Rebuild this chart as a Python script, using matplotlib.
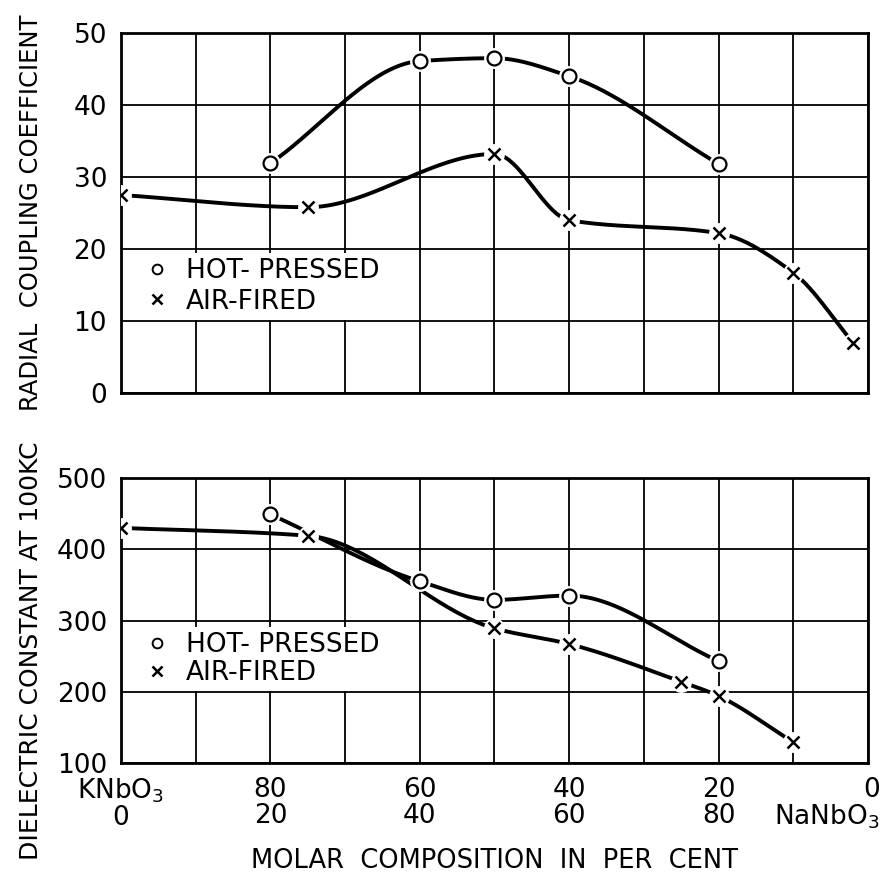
import numpy as np
import matplotlib
matplotlib.use("Agg")
import matplotlib.pyplot as plt
from matplotlib.lines import Line2D

plt.rcParams['font.family'] = ['DejaVu Sans']

# mole per cent NaNbO3 (0 = pure KNbO3, 100 = pure NaNbO3)
k_hot_x = [20, 40, 50, 60, 80]
k_hot_y = [31.9, 46.1, 46.5, 44.0, 31.8]
k_air_x = [0, 25, 50, 60, 80, 90, 98]
k_air_y = [27.5, 25.8, 33.2, 24.0, 22.2, 16.7, 7.0]

eps_hot_x = [20, 40, 50, 60, 80]
eps_hot_y = [449, 355, 329, 335, 243]
eps_air_x = [0, 25, 50, 60, 75, 80, 90]
eps_air_y = [430, 419, 289, 267, 214, 194, 129]

tick_pos = [0, 20, 40, 60, 80]
tick_lab = ['KNbO$_3$\n0', '80\n20', '60\n40', '40\n60', '20\n80']
legend_lab = ['HOT- PRESSED', 'AIR-FIRED']


def smooth(x, y, n=40):
    # monotone cubic (pchip style) curve through the points
    x = np.asarray(x, float)
    y = np.asarray(y, float)
    hs = np.diff(x)
    d = np.diff(y) / hs
    m = np.zeros_like(y)
    for i in range(1, len(x) - 1):
        if d[i - 1] * d[i] > 0:
            w1 = 2 * hs[i] + hs[i - 1]
            w2 = hs[i] + 2 * hs[i - 1]
            m[i] = (w1 + w2) / (w1 / d[i - 1] + w2 / d[i])
    m[0] = d[0]
    m[-1] = d[-1]
    xs, ys = [], []
    for i in range(len(x) - 1):
        h = hs[i]
        t = np.linspace(0, 1, n, endpoint=(i == len(x) - 2))
        h00 = 2 * t**3 - 3 * t**2 + 1
        h10 = t**3 - 2 * t**2 + t
        h01 = -2 * t**3 + 3 * t**2
        h11 = t**3 - t**2
        xs.append(x[i] + t * h)
        ys.append(h00 * y[i] + h10 * h * m[i] + h01 * y[i + 1] + h11 * h * m[i + 1])
    return np.concatenate(xs), np.concatenate(ys)


def draw(ax, x, y, marker):
    sx, sy = smooth(x, y)
    ax.plot(sx, sy, color='k', lw=2.8, zorder=3, solid_capstyle='butt')
    # white spot under each point so the curve stops short of it
    ax.plot(x, y, ls='none', marker='o', ms=15, mfc='white', mec='none', zorder=4)
    if marker == 'o':
        ax.plot(x, y, ls='none', marker='o', ms=10, mfc='white', mec='k', mew=1.6, zorder=5)
    else:
        ax.plot(x, y, ls='none', marker='x', ms=8, mec='k', mew=1.8, zorder=5)


def style(ax):
    ax.set_xlim(0, 100)
    ax.set_xticks(range(0, 101, 10))
    ax.grid(True, color='k', lw=1.3)
    ax.tick_params(length=0, labelsize=19, pad=10)
    for s in ax.spines.values():
        s.set_linewidth(2)


def legend(ax, top, spacing):
    handles = [Line2D([], [], ls='none', marker='o', ms=7, mfc='white', mec='k', mew=1.4),
               Line2D([], [], ls='none', marker='x', ms=7, mec='k', mew=1.8)]
    leg = ax.legend(handles, legend_lab, loc='upper left',
                    bbox_to_anchor=(0.014, top), borderaxespad=0, fontsize=19,
                    frameon=True, fancybox=False, framealpha=1, edgecolor='none',
                    handlelength=1.5, handletextpad=0.35, borderpad=0.2,
                    labelspacing=spacing)
    leg.set_zorder(6)


fig = plt.figure(figsize=(8.85, 8.75), dpi=100)
ax1 = fig.add_axes([0.1367, 0.5509, 0.8441, 0.4114])
ax2 = fig.add_axes([0.1367, 0.128, 0.8441, 0.3257])

style(ax1)
draw(ax1, k_hot_x, k_hot_y, 'o')
draw(ax1, k_air_x, k_air_y, 'x')
ax1.set_ylim(0, 50)
ax1.set_yticks(range(0, 51, 10))
ax1.set_xticklabels([])
ax1.set_ylabel('RADIAL  COUPLING COEFFICIENT', fontsize=17.5)
ax1.yaxis.set_label_coords(-0.105, 0.5)
legend(ax1, 0.39, 0.18)

style(ax2)
draw(ax2, eps_hot_x, eps_hot_y, 'o')
draw(ax2, eps_air_x, eps_air_y, 'x')
ax2.set_ylim(100, 500)
ax2.set_yticks(range(100, 501, 100))
ax2.set_xticklabels([tick_lab[tick_pos.index(v)] if v in tick_pos else '' for v in range(0, 101, 10)],
                    linespacing=1.0)
ax2.annotate('0\nNaNbO$_3$', xy=(100, 0), xycoords=('data', 'axes fraction'),
             xytext=(8.6, -10), textcoords='offset points', ha='right', va='top',
             multialignment='right', fontsize=19, linespacing=1.0)
ax2.set_ylabel('DIELECTRIC CONSTANT AT 100KC', fontsize=18)
ax2.yaxis.set_label_coords(-0.105, 0.393)
ax2.set_xlabel('MOLAR  COMPOSITION  IN  PER  CENT', fontsize=18.5)
ax2.xaxis.set_label_coords(0.5, -0.298)
legend(ax2, 0.478, 0.08)

fig.savefig('out.png', dpi=100)
